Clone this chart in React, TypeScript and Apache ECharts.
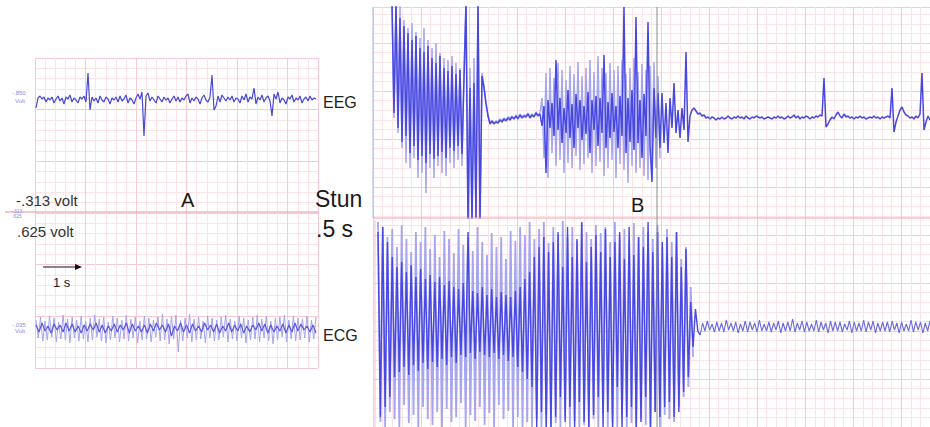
import React, { useEffect, useRef } from "react";
import * as echarts from "echarts";

// Panel A – EEG trace (amplitude units, + = up), evenly sampled
const A_EEG = [
  -8, 2, 4, 1, 3, -2, 2, 0, 3, -3,
  1, 4, -1, 2, -4, 3, 1, 5, -2, 2,
  0, -3, 3, 1, 4, -2, 27, -10, 3, -1,
  2, -3, 4, 0, -2, 3, 1, -4, 2, 0,
  3, -2, 4, -1, 1, 5, -3, 2, 0, -4,
  2, 6, 1, 8, -36, 4, 7, -1, 3, 0,
  -3, 4, 1, -2, 3, 0, 2, -3, 1, 4,
  -1, 3, -2, 2, 0, 4, 6, -3, 2, -1,
  3, 1, -4, 2, 5, 0, -2, 3, 25, -10,
  -6, 4, -2, 5, 2, -1, 3, 0, 4, -2,
  2, 1, -3, 4, 0, 6, -2, 3, 1, 12,
  -4, 3, 0, 5, -2, 2, 4, -1, -16, 6,
  1, 8, -3, 2, 0, -4, 3, 1, 5, -2,
  2, 0, 4, -3, 1, 3, -1, 4, 0, 2,
  1,
];

// Panel A – ECG trace, outer (light) excursions
const A_ECG_LIGHT = [
  8, -10, 11, -13, 7, -12, 12, -9, 10, -14, 6, -11, 13, -12, 9, -15, 11, -10, 8, -13,
  12, -11, 7, -14, 10, -12, 13, -9, 9, -13, 11, -15, 6, -12, 12, -10, 10, -14, 8, -11,
  13, -13, 9, -10, 11, -15, 7, -12, 12, -11, 10, -14, 8, -9, 11, -13, 14, -12, 9, -16,
  12, -11, 13, -24, 8, -13, 10, -10, 14, -14, 9, -12, 11, -11, 7, -15, 12, -10, 10, -13,
  8, -12, 11, -9, 13, -14, 9, -11, 7, -13, 12, -10, 10, -15, 8, -12, 11, -11, 13, -14,
  9, -10, 12, -13, 7, -16, 10, -12, 11, -9, 13, -14, 8, -11, 12, -13, 10, -12, 9, -10,
  12, -14, 8, -11, 11,
];

// Panel A – ECG trace, core (dark)
const A_ECG_DARK = [
  3, -4, 5, -3, 2, -5, 4, -2, 3, -4, 5, -3, 4, -4, 2, -5, 3, -3, 4, -2,
  5, -4, 3, -5, 2, -3, 4, -4, 3, -2, 5, -5, 4, -3, 2, -4, 3, -5, 4, -3,
  5, -2, 3, -4, 4, -8, 2, -3, 5, -4, 3, -5, 4, -3, 2, -4, 5, -2, 3, -4,
  4, -5, 2, -3, 5, -4, 3, -3, 4, -5, 2, -4, 3, -2, 5, -3, 4, -5, 3, -4,
  2, -3, 4, -5, 3, -4, 5, -3, 4, -2, 2, -4, 3, -5,
];

// Panel B – EEG trace (dark)
const B_EEG_DARK = [
  115, 5, 115, -10, 100, -24, 92, -18, 85, -35,
  78, -28, 82, -42, 70, -38, 66, -45, 72, -36,
  60, -41, 55, -38, 62, -34, 50, -40, 47, -30,
  52, -33, 44, -28, 48, -36, 40, 115, -105, 30,
  -105, 35, -100, 115, -105, 42, 30, 14, 2, -6,
  -3,
  -6, -4, -5, -2, -4, -1, -3, 0, -2, 1, -1, 2, -1, 3, 0, 2, 1, 4, 0, 3, 1, 5, 2, 4,
  -8, 12, -55, 18, -10, 15, -18, 58, -12, 20,
  -25, 10, -15, 28, -20, 14, -30, 24, -10, 18,
  -22, 12, -16, 26, -35, 18, -12, 22, -28, 20,
  -15, 63, -30, 16, -20, 25, -14, 12, -30, 22,
  -18, 111, -35, 20, -24, 28, -32, 101, -25, 18,
  -40, 24, -18, 96, -28, -64, 30, -20, 25,
  -30, 25, -25, 15, -35, 20, -10, 35, -15, 8,
  -20, 10, -12, 66, -24, 2, 8,
  10, 7, 4, 5, 2, 3, 0, 1, -1, 1,
  0, -2, 0, -1, 1, -1, 0, 2, 0, -1,
  1, 0, 2, 0, 1, -1, 2, 0, -1, 1,
  0, 2, 1, 0, 1, -1, 0, 1, 0, -1,
  1, 0, 2, 0, 1, -1, 0, 2, 0, 1,
  3, 0, 2, -1, 1, 0, 2, 1, -1, 1,
  0, 2, 1, 3, 2, 40, -9, -6, -2, 1,
  -1, 3, 6, 2, 0, 4, 1, 2, 0, 1,
  -1, 1, 0, 2, 0, 1, -1, 0, 1, 0,
  2, 0, 1, -1, 1, 0, 1, 2, 0, 30,
  -14, -4, 2, 8, 11, 6, 3, 2, 0, 1,
  -1, 2, 0, 4, 45, -12, -4, 2, -2,
];

// Panel B – EEG trace, outer (light) excursions
const B_EEG_LIGHT = [
  112, 0, 112, -15, 112, -30, 98, -45, 90, -50,
  95, -40, 86, -60, 80, -55, 90, -75, 78, -50,
  70, -60, 75, -48, 65, -55, 60, -58, 58, -45,
  62, -50, 55, -42, 50, -48, 45,
  115, -105, 50, -100, 60, -100, 115, -100, 45, 32, 16, 3, -5, -3,
  -5, -3, -4, -1, -3, 0, -2, 1, 0, 2, -1, 3, 0, 4, 1, 3, 2, 5, 1, 4, 2, 6, 3, 5,
  20, -40, 45, -60, 50, -35, 40, -48, 55, -42,
  48, -55, 38, -45, 52, -50, 44, -38, 56, -52,
  42, -46, 50, -40, 58, -55, 46, -48, 62, -44,
  50, -58, 45, -50, 55, -42, 48, -60, 52, -46,
  58, -52, 44, -65, 50, -48, 60, -55, 46, -50,
  54, -58, 48, -62, 52, -45, 56, -50, 42,
  -40,
];

// Panel B – ECG trace (dark): burst, then post-stun rhythm from sample 136 on
const B_ECG_DARK = [
  95, -90, 100, -80, 85, -70,
  70, -50, 60, -45, 65, -40, 55, -48, 62, -38,
  50, -44, 58, -36, 48, -42, 52, -35, 45, -40,
  50, -32, 42, -38, 46, -30, 40, -36, 38, -28,
  44, -30, 95, -26, 36, -32, 34, -25, 40, -28,
  32, -30, 38, -26, 30, -32, 35, -28, 32, -34,
  30, -30, 36, -40, 40, -45, 48, -52, 55, -60,
  70, -100, 80, -85, 90, -105, 75, -100, 85, -90,
  95, -70, 60, -95, 100, -80, 70, -100, 88, -75,
  105, -95, 65, -100, 80, -88, 92, -70, 75, -100,
  98, -85, 70, -100, 85, -60, 95, -100, 68, -90,
  100, -80, 72, -100, 90, -95, 80, -70, 105, -100,
  75, -85, 95, -90, 85, -80, 90, -75, 70, -90,
  95, -85, 60, -65, 78, -50, 25, -20, 18, -4, -8,
  4, -4, 6, -3, 3, -5, 5, -4, 4, -5, 7, -3, 4, -4, 5, -6, 3, -4, 6, -5,
  5, -3, 4, -5, 7, -4, 3, -4, 5, -5, 4, -3, 6, -6, 4, -4, 5, -4, 8, -5,
  4, -3, 6, -5, 5, -4, 3, -4, 7, -5, 5, -3, 4, -6, 6, -4, 5, -4, 5, -5,
  3, -3, 6, -6, 5, -4, 4, -4, 7, -5, 5, -3, 6, -6, 4, -4, 5, -4, 5, -5,
  6, -3, 4, -6, 5, -4, 3, -4, 7, -5, 5, -3, 5, -6, 4, -4, 6,
];
const B_ECG_RHYTHM_START = 136;

// Panel B – ECG trace, outer (light) excursions
const B_ECG_LIGHT = [
  105, -95, 100, -100, 90, -85, 98, -92, 80, -100, 102, -78, 88, -96, 75, -88, 95, -100, 85, -80,
  100, -92, 78, -98, 92, -85, 70, -100, 96, -82, 88, -95, 74, -90, 98, -76, 82, -100, 90, -88,
  76, -94, 100, -80, 85, -98, 72, -86, 94, -100, 80, -78, 90, -92, 68, -84, 96, -100, 86, -90,
  100, -100, 92, -95, 105, -100, 88, -92, 98, -100, 105, -88, 84, -100, 100, -96, 92, -100, 106, -90,
  90, -100, 100, -94, 86, -100, 104, -98, 95, -100, 88, -92, 102, -100, 94, -86, 100, -100, 85, -95,
  105, -100, 92, -90, 98, -100, 86, -96, 104, -100, 90, -92, 100, -98, 95, -100, 88, -85, 102, -100,
  80, -88, 98, -92, 85, -95, 95, -80, 68, -70, 80, -60, 40, -30,
];

const FONT = "'Liberation Sans', Arial, sans-serif";
const DARK = "#4747e3";
const LIGHT = "#a6a6f0";
const MINOR = "#fbe3e7";
const MAJOR = "#f5cad2";

function bgAxis(gridIndex: number, max: number, interval: number, color: string) {
  return {
    type: "value",
    gridIndex,
    min: 0,
    max,
    interval,
    axisLine: { show: false },
    axisTick: { show: false },
    axisLabel: { show: false },
    splitLine: { show: true, lineStyle: { color, width: 1 } },
  };
}

function hiddenAxis(gridIndex: number, min: number, max: number) {
  return { type: "value", gridIndex, min, max, show: false };
}

function pts(arr: number[]) {
  return arr.map((v, i) => [i, v]);
}

function lineSeries(data: number[][], xi: number, yi: number, color: string, z: number, width = 1) {
  return {
    type: "line",
    xAxisIndex: xi,
    yAxisIndex: yi,
    data,
    showSymbol: false,
    symbol: "none",
    lineStyle: { color, width },
    z,
    silent: true,
  };
}

function trace(arr: number[], xi: number, yi: number, color: string, z: number, width = 1) {
  return lineSeries(pts(arr), xi, yi, color, z, width);
}

function txt(text: string, x: number, y: number, size: number, fill = "#1a1a1a") {
  return {
    type: "text",
    z: 20,
    style: {
      text,
      x,
      y,
      fill,
      font: `${size}px ${FONT}`,
      textAlign: "left",
      textVerticalAlign: "middle",
    },
  };
}

function ln(x1: number, y1: number, x2: number, y2: number, stroke: string, z = 15) {
  return { type: "line", z, shape: { x1, y1, x2, y2 }, style: { stroke, lineWidth: 1 } };
}

export default function App() {
  const ref = useRef<HTMLDivElement>(null);
  useEffect(() => {
    if (!ref.current) return;
    const chart = echarts.init(ref.current, undefined, { renderer: "svg" });
    const ecgPts = pts(B_ECG_DARK);
    chart.setOption({
      animation: false,
      backgroundColor: "#ffffff",
      grid: [
        { left: 35, top: 58, width: 283, height: 310 },
        { left: 373, top: 7, width: 557, height: 420 },
        { left: 36, top: 60, width: 280, height: 80 },
        { left: 36, top: 300, width: 280, height: 56 },
        { left: 392, top: 7, width: 538, height: 211 },
        { left: 378, top: 220, width: 552, height: 207 },
      ],
      xAxis: [
        bgAxis(0, 28, 1, MINOR),
        bgAxis(0, 28, 5, MAJOR),
        bgAxis(1, 58, 1, MINOR),
        bgAxis(1, 58, 5, MAJOR),
        hiddenAxis(2, 0, A_EEG.length - 1),
        hiddenAxis(3, 0, A_ECG_LIGHT.length - 1),
        hiddenAxis(3, 0, A_ECG_DARK.length - 1),
        hiddenAxis(4, 0, B_EEG_DARK.length - 1),
        hiddenAxis(5, 0, B_ECG_DARK.length - 1),
      ],
      yAxis: [
        bgAxis(0, 30, 1, MINOR),
        bgAxis(0, 30, 5, MAJOR),
        bgAxis(1, 43.75, 1, MINOR),
        bgAxis(1, 43.75, 5, MAJOR),
        hiddenAxis(2, -40, 40),
        hiddenAxis(3, -28, 28),
        hiddenAxis(4, -100, 111),
        hiddenAxis(5, -100, 107),
      ],
      series: [
        trace(A_EEG, 4, 4, "#4848d4", 3, 1.2),
        trace(A_ECG_LIGHT, 5, 5, "#a4a4ee", 2),
        trace(A_ECG_DARK, 6, 5, "#5858de", 3, 1.2),
        trace(B_EEG_LIGHT, 7, 6, LIGHT, 2, 1.5),
        trace(B_EEG_DARK, 7, 6, DARK, 3, 1.5),
        trace(B_ECG_LIGHT, 8, 7, LIGHT, 2, 1.8),
        lineSeries(ecgPts.slice(0, B_ECG_RHYTHM_START + 1), 8, 7, DARK, 3, 1.4),
        lineSeries(ecgPts.slice(B_ECG_RHYTHM_START), 8, 7, "#6a6ae2", 3, 1.1),
      ],
      graphic: [
        ln(5, 212, 318, 212, "#ef9098"),
        ln(373, 218, 930, 218, "#f3a4ac"),
        ln(373, 7, 373, 218, "#b4b4e6"),
        ln(375, 220, 375, 427, "#f3c4cb"),
        ln(657, 7, 657, 427, "#8a8a8a"),
        ln(43, 267, 77, 267, "#111111"),
        {
          type: "polygon",
          z: 15,
          shape: { points: [[75, 264], [82, 267], [75, 270]] },
          style: { fill: "#111111" },
        },
        txt("-.313 volt", 16, 200, 15, "#333333"),
        txt(".625 volt", 17, 231.5, 15, "#333333"),
        txt("A", 181, 200, 20),
        txt("Stun", 315, 198.5, 23),
        txt(".5 s", 316, 228.5, 23),
        txt("B", 631, 204.5, 20),
        txt("EEG", 323, 102.5, 16, "#222222"),
        txt("ECG", 323, 335, 16, "#222222"),
        txt("1 s", 53, 282, 13, "#222222"),
        txt("-.850", 12, 93, 6, "#8a8ae0"),
        txt("Volt", 15, 100.5, 6, "#8a8ae0"),
        txt("-.035", 12, 325, 6, "#8a8ae0"),
        txt("Volt", 15, 331, 6, "#8a8ae0"),
        txt("-.313", 11, 210.5, 5, "#8a8ae0"),
        txt(".625", 12, 216, 5, "#8a8ae0"),
      ],
    });
    return () => chart.dispose();
  }, []);
  return (
    <div
      ref={ref}
      style={{ position: "absolute", left: 0, top: 0, width: 930, height: 427, background: "#fff" }}
    />
  );
}
